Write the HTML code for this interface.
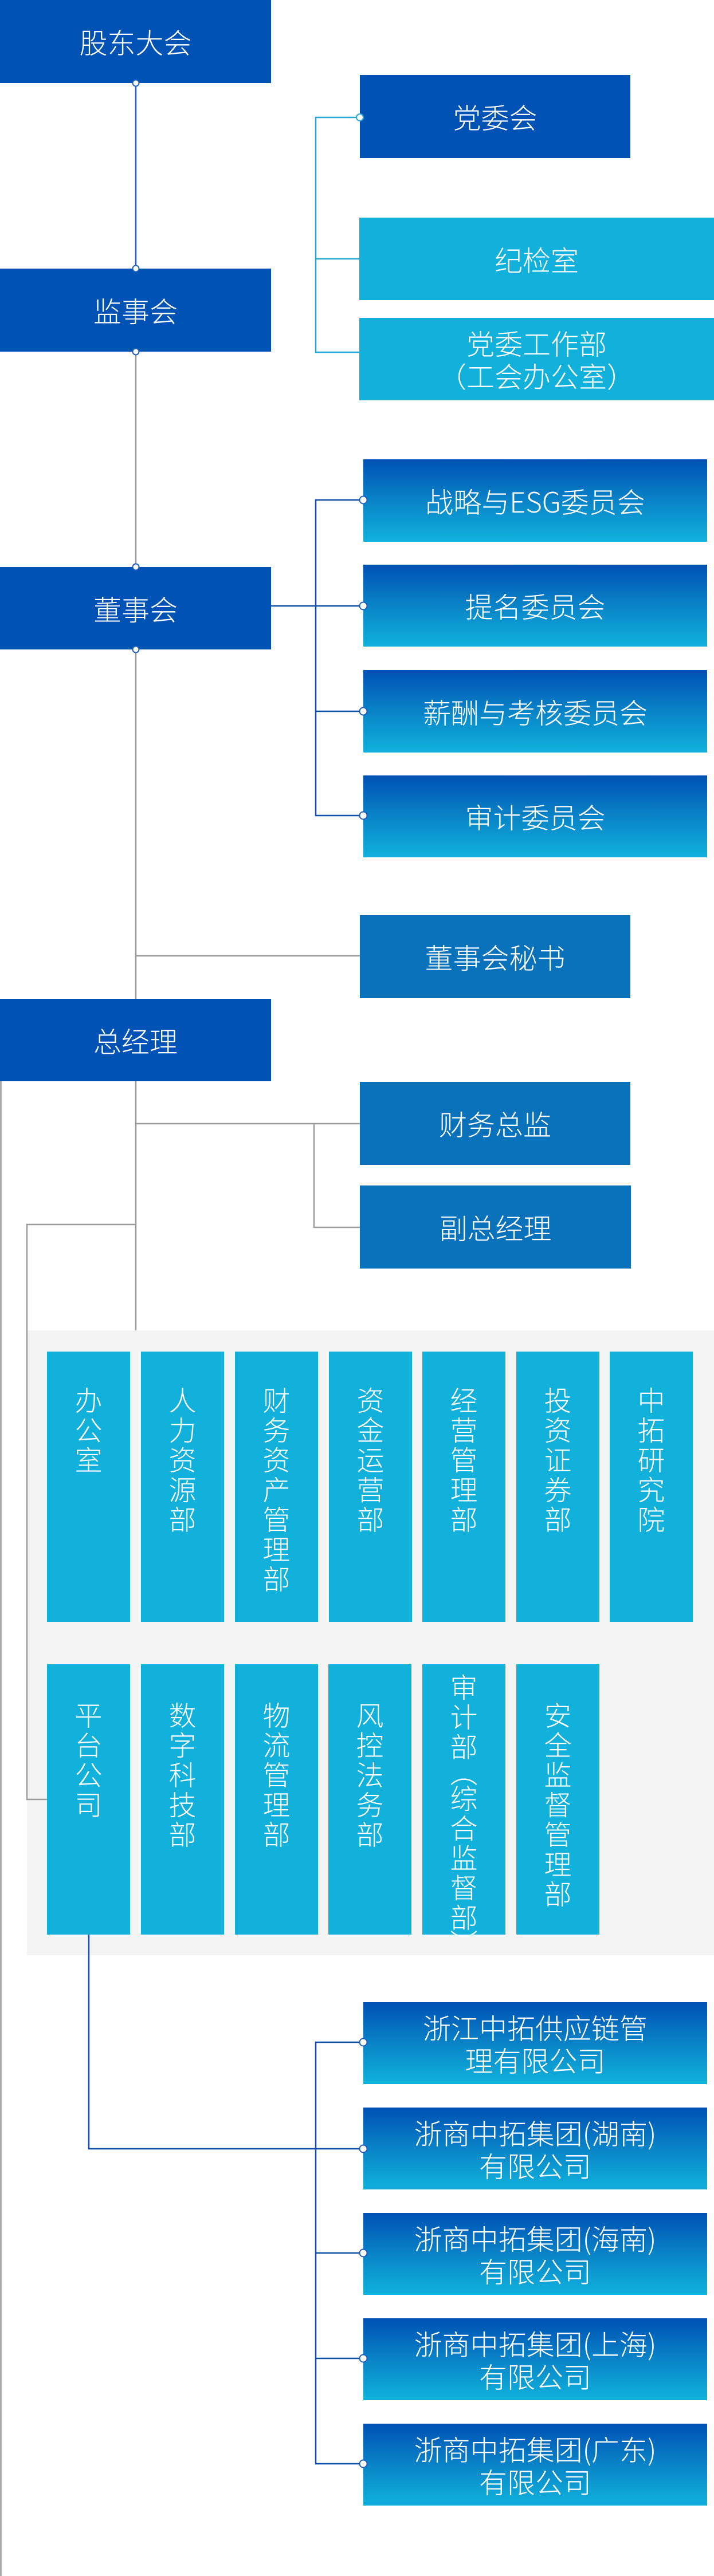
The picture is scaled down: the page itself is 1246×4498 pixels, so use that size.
<!DOCTYPE html>
<html><head><meta charset="utf-8">
<style>
html,body{margin:0;padding:0;background:#fff;}
body{width:1246px;height:4498px;position:relative;overflow:hidden;font-family:"Liberation Sans","Noto Sans CJK SC",sans-serif;}
.b{position:absolute;color:#fff;display:flex;align-items:center;justify-content:center;text-align:center;font-size:49px;line-height:57px;box-sizing:border-box;font-family:"Noto Sans CJK SC","Liberation Sans",sans-serif;font-weight:300;}
.m{background:#0053b5;}
.c{background:#12b1db;}
.s{background:#0a72bb;}
.g{background:linear-gradient(180deg,#0051b4 0%,#0a88c9 55%,#10b2dc 100%);}
.v{position:absolute;background:#12b1db;color:#fff;font-size:48px;line-height:52px;width:145px;box-sizing:border-box;text-align:center;font-family:"Noto Sans CJK SC","Liberation Sans",sans-serif;font-weight:300;}
.v span{display:block;width:52px;margin:0 auto;word-break:break-all;}
.v i{font-style:normal;display:block;line-height:38px;}
.panel{position:absolute;left:47px;top:2323px;width:1199px;height:1091px;background:#f4f4f4;}
svg{position:absolute;left:0;top:0;}
</style></head><body>
<div class="panel"></div>
<svg width="1246" height="4498" viewBox="0 0 1246 4498">
<g fill="none" stroke-width="2.5">
<line x1="237" y1="145" x2="237" y2="469" stroke="#1d5fc0"/>
<line x1="237" y1="614" x2="237" y2="990" stroke="#9a9a9a"/>
<line x1="237" y1="1134" x2="237" y2="2323" stroke="#9a9a9a"/>
<polyline points="628,205 551,205 551,615 627,615" stroke="#2aa8d4"/>
<line x1="551" y1="452" x2="627" y2="452" stroke="#2aa8d4"/>
<polyline points="634,873 551,873 551,1424 634,1424" stroke="#0d4ea8"/>
<line x1="473" y1="1058" x2="634" y2="1058" stroke="#0d4ea8"/>
<line x1="551" y1="1242" x2="634" y2="1242" stroke="#0d4ea8"/>
<line x1="237" y1="1669" x2="628" y2="1669" stroke="#9a9a9a"/>
<line x1="237" y1="1962" x2="628" y2="1962" stroke="#9a9a9a"/>
<polyline points="548,1962 548,2143 628,2143" stroke="#9a9a9a"/>
<polyline points="237,2138 47,2138 47,3142 82,3142" stroke="#9a9a9a"/>
<line x1="1.5" y1="1888" x2="1.5" y2="4498" stroke="#9a9a9a"/>
<polyline points="155,3378 155,3752 634,3752" stroke="#0d4ea8"/>
<polyline points="634,3566 551,3566 551,4302 634,4302" stroke="#0d4ea8"/>
<line x1="551" y1="3934" x2="634" y2="3934" stroke="#0d4ea8"/>
<line x1="551" y1="4118" x2="634" y2="4118" stroke="#0d4ea8"/>
</g>
</svg>
<div class="b m" style="left:0;top:0;width:473px;height:145px">股东大会</div>
<div class="b m" style="left:0;top:469px;width:473px;height:145px">监事会</div>
<div class="b m" style="left:0;top:990px;width:473px;height:144px">董事会</div>
<div class="b m" style="left:0;top:1744px;width:473px;height:144px">总经理</div>
<div class="b m" style="left:628px;top:131px;width:472px;height:145px">党委会</div>
<div class="b c" style="left:627px;top:380px;width:619px;height:144px">纪检室</div>
<div class="b c" style="left:627px;top:555px;width:619px;height:144px">党委工作部<br>（工会办公室）</div>
<div class="b g" style="left:634px;top:802px;width:600px;height:144px">战略与ESG委员会</div>
<div class="b g" style="left:634px;top:986px;width:600px;height:143px">提名委员会</div>
<div class="b g" style="left:634px;top:1170px;width:600px;height:144px">薪酬与考核委员会</div>
<div class="b g" style="left:634px;top:1354px;width:600px;height:143px">审计委员会</div>
<div class="b s" style="left:628px;top:1598px;width:472px;height:145px">董事会秘书</div>
<div class="b s" style="left:628px;top:1889px;width:472px;height:145px">财务总监</div>
<div class="b s" style="left:628px;top:2070px;width:473px;height:145px">副总经理</div>

<div class="v" style="left:82px;top:2360px;height:472px;padding-top:56px"><span>办公室</span></div>
<div class="v" style="left:246px;top:2360px;height:472px;padding-top:56px"><span>人力资源部</span></div>
<div class="v" style="left:410px;top:2360px;height:472px;padding-top:56px"><span>财务资产管理部</span></div>
<div class="v" style="left:574px;top:2360px;height:472px;padding-top:56px"><span>资金运营部</span></div>
<div class="v" style="left:737px;top:2360px;height:472px;padding-top:56px"><span>经营管理部</span></div>
<div class="v" style="left:901px;top:2360px;height:472px;padding-top:56px"><span>投资证券部</span></div>
<div class="v" style="left:1064px;top:2360px;height:472px;padding-top:56px"><span>中拓研究院</span></div>

<div class="v" style="left:82px;top:2906px;height:472px;padding-top:60px"><span>平台公司</span></div>
<div class="v" style="left:246px;top:2906px;height:472px;padding-top:60px"><span>数字科技部</span></div>
<div class="v" style="left:410px;top:2906px;height:472px;padding-top:60px"><span>物流管理部</span></div>
<div class="v" style="left:573px;top:2906px;height:472px;padding-top:60px"><span>风控法务部</span></div>
<div class="v" style="left:737px;top:2906px;height:472px;padding-top:11px"><span>审<br>计<br>部<i>︵</i>综<br>合<br>监<br>督<br>部<i>︶</i></span></div>
<div class="v" style="left:901px;top:2906px;height:472px;padding-top:60px"><span>安全监督管理部</span></div>

<div class="b g" style="left:634px;top:3496px;width:600px;height:143px">浙江中拓供应链管<br>理有限公司</div>
<div class="b g" style="left:634px;top:3680px;width:600px;height:143px">浙商中拓集团(湖南)<br>有限公司</div>
<div class="b g" style="left:634px;top:3864px;width:600px;height:143px">浙商中拓集团(海南)<br>有限公司</div>
<div class="b g" style="left:634px;top:4048px;width:600px;height:143px">浙商中拓集团(上海)<br>有限公司</div>
<div class="b g" style="left:634px;top:4232px;width:600px;height:143px">浙商中拓集团(广东)<br>有限公司</div>

<svg width="1246" height="4498" viewBox="0 0 1246 4498">
<g fill="#fff" stroke="#1d5fc0" stroke-width="2">
<circle cx="237" cy="145" r="5.5"/>
<circle cx="237" cy="469" r="5.5"/>
<circle cx="237" cy="614" r="5.5"/>
<circle cx="237" cy="990" r="5.5"/>
<circle cx="237" cy="1134" r="5.5"/>
<circle cx="628" cy="205" r="6" stroke="#2aa8d4"/>
<circle cx="634" cy="873" r="6.5"/>
<circle cx="634" cy="1058" r="6.5"/>
<circle cx="634" cy="1242" r="6.5"/>
<circle cx="634" cy="1424" r="6.5"/>
<circle cx="634" cy="3566" r="6.5"/>
<circle cx="634" cy="3752" r="6.5"/>
<circle cx="634" cy="3934" r="6.5"/>
<circle cx="634" cy="4118" r="6.5"/>
<circle cx="634" cy="4302" r="6.5"/>
</g>
</svg>
</body></html>
